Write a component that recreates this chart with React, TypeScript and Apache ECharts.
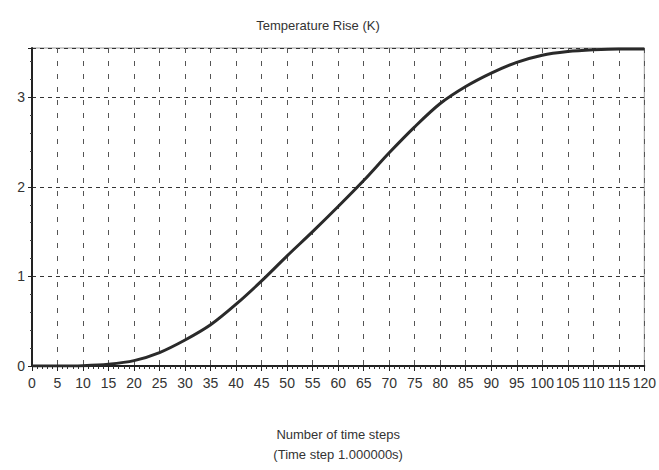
import React, { useEffect, useRef } from "react";
import * as echarts from "echarts";

const timeSteps = [0, 5, 10, 15, 20, 25, 30, 35, 40, 45, 50, 55, 60, 65, 70, 75, 80, 85, 90, 95, 100, 105, 110, 115, 120];
const tempRise = [0, 0, 0.004, 0.02, 0.06, 0.15, 0.29, 0.46, 0.69, 0.95, 1.23, 1.5, 1.78, 2.07, 2.38, 2.67, 2.93, 3.12, 3.27, 3.39, 3.47, 3.51, 3.53, 3.54, 3.54];
const yTicks = [0, 1, 2, 3];
const titleText = "Temperature Rise (K)";
const xName1 = "Number of time steps";
const xName2 = "(Time step 1.000000s)";

const FONT = "'Liberation Sans', Arial, sans-serif";

export default function App() {
  const ref = useRef<HTMLDivElement>(null);
  useEffect(() => {
    if (!ref.current) return;
    const chart = echarts.init(ref.current, undefined, { renderer: "svg" });
    const data = timeSteps.map((x, i) => [x, tempRise[i]]);
    chart.setOption({
      animation: false,
      backgroundColor: "#ffffff",
      title: {
        text: titleText,
        left: 313,
        top: 14,
        textAlign: "center",
        textStyle: { fontFamily: FONT, fontSize: 13, fontWeight: "normal", color: "#333" },
      },
      grid: { left: 32, right: 11, top: 48, bottom: 104, show: true, borderColor: "#999", borderWidth: 1 },
      xAxis: [
        {
          type: "value",
          min: 0,
          max: 120,
          interval: 5,
          axisLine: { show: true, onZero: false, lineStyle: { color: "#222", width: 2 } },
          axisTick: { show: true, length: 5, lineStyle: { color: "#222" } },
          minorTick: { show: true, splitNumber: 5, length: 3, lineStyle: { color: "#333" } },
          splitLine: { show: true, lineStyle: { color: "#555", type: [5, 8], width: 1 } },
          axisLabel: {
            fontFamily: FONT,
            fontSize: 14,
            color: "#333",
            margin: 10,
            hideOverlap: false,
            showMaxLabel: true,
            showMinLabel: true,
            interval: 0,
          },
          name: xName1 + "\n" + xName2,
          nameLocation: "middle",
          nameGap: 58,
          nameTextStyle: { fontFamily: FONT, fontSize: 13, color: "#333", lineHeight: 20 },
        },
        {
          type: "value",
          position: "top",
          min: 0,
          max: 120,
          interval: 5,
          axisLine: { show: true, lineStyle: { color: "#222", width: 1.5 } },
          axisTick: { show: false },
          axisLabel: { show: false },
          splitLine: { show: false },
        },
      ],
      yAxis: {
        type: "value",
        min: 0,
        max: 3.55,
        interval: 1,
        axisLine: { show: true, lineStyle: { color: "#222", width: 2 } },
        axisTick: { show: true, length: 4, lineStyle: { color: "#222" } },
        minorTick: { show: true, splitNumber: 5, length: 2, lineStyle: { color: "#444" } },
        splitLine: { show: true, lineStyle: { color: "#333", type: [4, 4], width: 1.2 } },
        axisLabel: {
          fontFamily: FONT,
          fontSize: 14,
          color: "#333",
          margin: 7,
          formatter: (v: number) => (yTicks.includes(v) ? String(v) : ""),
        },
      },
      series: [
        {
          type: "line",
          data,
          smooth: 0.3,
          symbol: "none",
          lineStyle: { color: "#2a2a2a", width: 3 },
        },
      ],
    });
    return () => chart.dispose();
  }, []);
  return <div ref={ref} style={{ width: 659, height: 470, position: "fixed", left: 0, top: 0 }} />;
}
